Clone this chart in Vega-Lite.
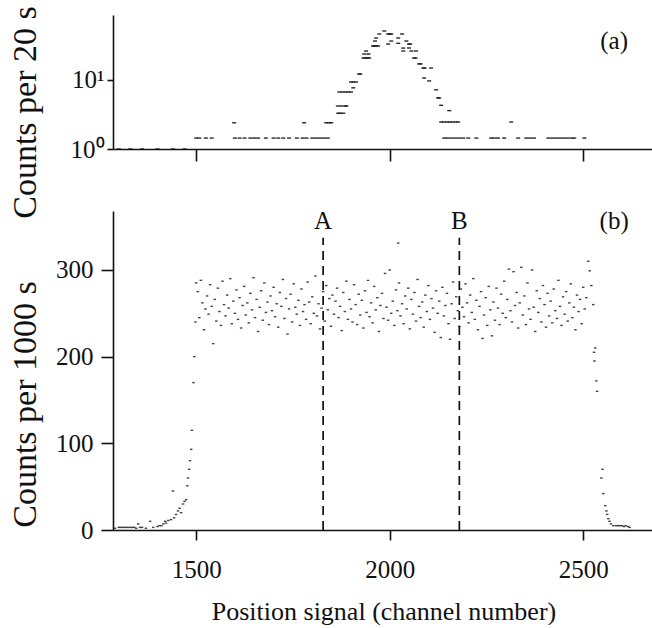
{
"$schema": "https://vega.github.io/schema/vega-lite/v6.json",
"padding": {"left": 7, "top": 5, "right": 0, "bottom": 1},
"bounds": "flush",
"spacing": 62,
"config": {
 "view": {"stroke": null},
 "font": "Liberation Serif",
 "axis": {"grid": false, "domainColor": "#111", "tickColor": "#111", "labelColor": "#111", "titleColor": "#111", "labelFont": "Liberation Serif", "titleFont": "Liberation Serif", "labelFontSize": 25, "titleFontSize": 34, "titleFontWeight": "normal", "domainWidth": 1.6, "tickWidth": 1.6}
},
"datasets": {
 "top": [
  {"ch":1300,"v":1},{"ch":1330,"v":1},{"ch":1360,"v":1},{"ch":1400,"v":1},{"ch":1440,"v":1},{"ch":1470,"v":1},
  {"ch":1500,"v":1.44},{"ch":1508,"v":1.44},{"ch":1525,"v":1.44},{"ch":1540,"v":1.44},{"ch":1600,"v":1.44},{"ch":1612,"v":1.44},{"ch":1625,"v":1.44},{"ch":1640,"v":1.44},{"ch":1650,"v":1.44},{"ch":1660,"v":1.44},{"ch":1680,"v":1.44},{"ch":1700,"v":1.44},{"ch":1712,"v":1.44},{"ch":1725,"v":1.44},{"ch":1740,"v":1.44},{"ch":1760,"v":1.44},{"ch":1775,"v":1.44},{"ch":1785,"v":1.44},{"ch":1800,"v":1.44},{"ch":1810,"v":1.44},{"ch":1820,"v":1.44},{"ch":1830,"v":1.44},{"ch":1840,"v":1.44},
  {"ch":1598,"v":2.4},{"ch":1779,"v":2.4},{"ch":1836,"v":2.4},{"ch":1843,"v":2.4},{"ch":1849,"v":2.4},
  {"ch":1867,"v":3.3},{"ch":1872,"v":3.3},{"ch":1880,"v":3.3},
  {"ch":1866,"v":4.2},{"ch":1875,"v":4.2},{"ch":1885,"v":4.2},{"ch":1888,"v":4.2},
  {"ch":1870,"v":6.7},{"ch":1878,"v":6.7},{"ch":1886,"v":6.7},{"ch":1893,"v":6.7},{"ch":1900,"v":6.7},
  {"ch":1906,"v":7.7},{"ch":1900,"v":9.35},{"ch":1906,"v":9.35},{"ch":1913,"v":9.35},
  {"ch":1921,"v":12.2},{"ch":1924,"v":12.2},
  {"ch":1932,"v":20.8},{"ch":1937,"v":20.8},{"ch":1942,"v":20.8},{"ch":1947,"v":20.8},
  {"ch":1934,"v":23.8},{"ch":1945,"v":23.8},{"ch":1939,"v":26.3},
  {"ch":1957,"v":31.1},{"ch":1960,"v":31.1},{"ch":1965,"v":31.1},{"ch":1970,"v":31.1},
  {"ch":1962,"v":36.7},{"ch":1965,"v":40.6},{"ch":1973,"v":46.4},{"ch":1986,"v":51.3},
  {"ch":1996,"v":46.4},{"ch":2000,"v":46.4},{"ch":2004,"v":46.4},{"ch":1996,"v":33.2},{"ch":2004,"v":36.7},
  {"ch":2022,"v":40.6},{"ch":2022,"v":34},{"ch":2032,"v":46.4},{"ch":2035,"v":29},{"ch":2035,"v":26.3},
  {"ch":2043,"v":36.7},{"ch":2050,"v":33.2},{"ch":2053,"v":33.2},{"ch":2050,"v":29.1},{"ch":2056,"v":26.3},
  {"ch":2063,"v":20.8},{"ch":2067,"v":20.8},{"ch":2068,"v":26.3},
  {"ch":2076,"v":17.1},{"ch":2080,"v":17.1},{"ch":2087,"v":14.9},{"ch":2090,"v":14.9},{"ch":2107,"v":14.9},
  {"ch":2089,"v":10.7},{"ch":2102,"v":9.7},{"ch":2120,"v":7.2},{"ch":2125,"v":5.5},{"ch":2128,"v":5.5},{"ch":2133,"v":4.3},{"ch":2154,"v":3.6},
  {"ch":2133,"v":2.46},{"ch":2140,"v":2.46},{"ch":2148,"v":2.46},{"ch":2155,"v":2.46},{"ch":2162,"v":2.46},{"ch":2170,"v":2.46},{"ch":2177,"v":2.46},{"ch":2314,"v":2.46},
  {"ch":2141,"v":1.44},{"ch":2150,"v":1.44},{"ch":2160,"v":1.44},{"ch":2170,"v":1.44},{"ch":2180,"v":1.44},{"ch":2190,"v":1.44},{"ch":2203,"v":1.44},{"ch":2224,"v":1.44},{"ch":2262,"v":1.44},{"ch":2270,"v":1.44},{"ch":2280,"v":1.44},{"ch":2296,"v":1.44},{"ch":2332,"v":1.44},{"ch":2353,"v":1.44},{"ch":2363,"v":1.44},{"ch":2373,"v":1.44},{"ch":2410,"v":1.44},{"ch":2420,"v":1.44},{"ch":2430,"v":1.44},{"ch":2440,"v":1.44},{"ch":2450,"v":1.44},{"ch":2460,"v":1.44},{"ch":2470,"v":1.44},{"ch":2477,"v":1.44},{"ch":2503,"v":1.44}
 ],
 "bottom": [
  {"ch":1290,"v":2},{"ch":1300,"v":3},{"ch":1305,"v":3},{"ch":1310,"v":3},{"ch":1315,"v":3},{"ch":1320,"v":3},{"ch":1325,"v":3},{"ch":1330,"v":3},{"ch":1335,"v":3},{"ch":1340,"v":3},{"ch":1345,"v":2},{"ch":1350,"v":7},{"ch":1355,"v":3},{"ch":1360,"v":3},{"ch":1370,"v":2},{"ch":1381,"v":10},{"ch":1389,"v":3},{"ch":1400,"v":4},{"ch":1405,"v":5},{"ch":1410,"v":5},{"ch":1415,"v":7},{"ch":1420,"v":10},{"ch":1422,"v":8},{"ch":1428,"v":11},{"ch":1435,"v":12},{"ch":1440,"v":45},{"ch":1443,"v":14},{"ch":1448,"v":18},{"ch":1453,"v":22},{"ch":1457,"v":25},{"ch":1461,"v":20},{"ch":1466,"v":30},{"ch":1470,"v":33},{"ch":1474,"v":35},{"ch":1477,"v":51},{"ch":1479,"v":60},{"ch":1482,"v":70},{"ch":1484,"v":80},{"ch":1487,"v":93},{"ch":1489,"v":115},{"ch":1493,"v":170},{"ch":1495,"v":200},{"ch":1498,"v":240},{"ch":1500,"v":285},
  {"ch":1504,"v":275},{"ch":1508,"v":245},{"ch":1512,"v":288},{"ch":1516,"v":262},{"ch":1520,"v":231},{"ch":1524,"v":255},{"ch":1528,"v":270},{"ch":1532,"v":249},{"ch":1536,"v":283},{"ch":1540,"v":258},
  {"ch":1544,"v":215},{"ch":1548,"v":266},{"ch":1552,"v":241},{"ch":1556,"v":279},{"ch":1560,"v":252},{"ch":1564,"v":236},{"ch":1568,"v":287},{"ch":1572,"v":260},{"ch":1576,"v":247},{"ch":1580,"v":271},
  {"ch":1584,"v":256},{"ch":1588,"v":290},{"ch":1592,"v":238},{"ch":1596,"v":264},{"ch":1600,"v":250},{"ch":1604,"v":277},{"ch":1608,"v":243},{"ch":1612,"v":268},{"ch":1616,"v":233},{"ch":1620,"v":259},
  {"ch":1624,"v":281},{"ch":1628,"v":248},{"ch":1632,"v":262},{"ch":1636,"v":239},{"ch":1640,"v":273},{"ch":1644,"v":254},{"ch":1648,"v":291},{"ch":1652,"v":245},{"ch":1656,"v":266},{"ch":1660,"v":229},
  {"ch":1664,"v":257},{"ch":1668,"v":276},{"ch":1672,"v":242},{"ch":1676,"v":285},{"ch":1680,"v":251},{"ch":1684,"v":263},{"ch":1688,"v":237},{"ch":1692,"v":270},{"ch":1696,"v":253},{"ch":1700,"v":280},
  {"ch":1704,"v":246},{"ch":1708,"v":261},{"ch":1712,"v":234},{"ch":1716,"v":274},{"ch":1720,"v":258},{"ch":1724,"v":289},{"ch":1728,"v":244},{"ch":1732,"v":267},{"ch":1736,"v":226},{"ch":1740,"v":255},
  {"ch":1744,"v":272},{"ch":1748,"v":240},{"ch":1752,"v":284},{"ch":1756,"v":257},{"ch":1760,"v":249},{"ch":1764,"v":265},{"ch":1768,"v":236},{"ch":1772,"v":278},{"ch":1776,"v":252},{"ch":1780,"v":260},
  {"ch":1784,"v":243},{"ch":1788,"v":286},{"ch":1792,"v":263},{"ch":1796,"v":238},{"ch":1800,"v":269},{"ch":1804,"v":250},{"ch":1808,"v":293},{"ch":1812,"v":247},{"ch":1816,"v":261},{"ch":1820,"v":232},
  {"ch":1824,"v":256},{"ch":1828,"v":275},{"ch":1832,"v":241},{"ch":1836,"v":282},{"ch":1840,"v":254},{"ch":1844,"v":267},{"ch":1848,"v":235},{"ch":1852,"v":271},{"ch":1856,"v":249},{"ch":1860,"v":264},
  {"ch":1864,"v":279},{"ch":1868,"v":245},{"ch":1872,"v":258},{"ch":1876,"v":230},{"ch":1880,"v":274},{"ch":1884,"v":252},{"ch":1888,"v":287},{"ch":1892,"v":243},{"ch":1896,"v":266},{"ch":1900,"v":255},
  {"ch":1904,"v":240},{"ch":1908,"v":283},{"ch":1912,"v":260},{"ch":1916,"v":237},{"ch":1920,"v":272},{"ch":1924,"v":248},{"ch":1928,"v":265},{"ch":1932,"v":233},{"ch":1936,"v":276},{"ch":1940,"v":251},
  {"ch":1944,"v":288},{"ch":1948,"v":246},{"ch":1952,"v":262},{"ch":1956,"v":239},{"ch":1960,"v":281},{"ch":1964,"v":254},{"ch":1968,"v":268},{"ch":1972,"v":229},{"ch":1976,"v":259},{"ch":1980,"v":273},
  {"ch":1984,"v":244},{"ch":1988,"v":296},{"ch":1992,"v":257},{"ch":1996,"v":242},{"ch":2000,"v":300},{"ch":2004,"v":250},{"ch":2008,"v":264},{"ch":2012,"v":236},{"ch":2016,"v":277},{"ch":2020,"v":253},
  {"ch":2022,"v":331},
  {"ch":2024,"v":285},{"ch":2028,"v":247},{"ch":2032,"v":261},{"ch":2036,"v":238},{"ch":2040,"v":270},{"ch":2044,"v":255},{"ch":2048,"v":279},{"ch":2052,"v":232},{"ch":2056,"v":266},{"ch":2060,"v":249},
  {"ch":2064,"v":274},{"ch":2068,"v":241},{"ch":2072,"v":289},{"ch":2076,"v":258},{"ch":2080,"v":245},{"ch":2084,"v":263},{"ch":2088,"v":234},{"ch":2092,"v":271},{"ch":2096,"v":252},{"ch":2100,"v":282},
  {"ch":2104,"v":243},{"ch":2108,"v":267},{"ch":2112,"v":256},{"ch":2116,"v":228},{"ch":2120,"v":276},{"ch":2124,"v":250},{"ch":2128,"v":264},{"ch":2132,"v":222},{"ch":2136,"v":280},{"ch":2140,"v":247},
  {"ch":2144,"v":259},{"ch":2148,"v":273},{"ch":2152,"v":238},{"ch":2156,"v":220},{"ch":2160,"v":261},{"ch":2164,"v":286},{"ch":2168,"v":244},{"ch":2172,"v":269},{"ch":2176,"v":253},{"ch":2180,"v":235},
  {"ch":2184,"v":278},{"ch":2188,"v":257},{"ch":2192,"v":246},{"ch":2196,"v":284},{"ch":2200,"v":262},{"ch":2204,"v":239},{"ch":2208,"v":271},{"ch":2212,"v":251},{"ch":2216,"v":290},{"ch":2220,"v":243},
  {"ch":2224,"v":265},{"ch":2228,"v":231},{"ch":2232,"v":258},{"ch":2236,"v":275},{"ch":2240,"v":221},{"ch":2244,"v":248},{"ch":2248,"v":268},{"ch":2252,"v":236},{"ch":2256,"v":281},{"ch":2260,"v":254},
  {"ch":2264,"v":224},{"ch":2268,"v":263},{"ch":2272,"v":242},{"ch":2276,"v":279},{"ch":2280,"v":256},{"ch":2284,"v":237},{"ch":2288,"v":272},{"ch":2292,"v":250},{"ch":2296,"v":287},{"ch":2300,"v":245},
  {"ch":2304,"v":266},{"ch":2308,"v":301},{"ch":2312,"v":253},{"ch":2316,"v":240},{"ch":2320,"v":298},{"ch":2324,"v":259},{"ch":2328,"v":274},{"ch":2332,"v":233},{"ch":2336,"v":262},{"ch":2340,"v":303},
  {"ch":2344,"v":248},{"ch":2348,"v":270},{"ch":2352,"v":237},{"ch":2356,"v":285},{"ch":2360,"v":255},{"ch":2364,"v":243},{"ch":2368,"v":300},{"ch":2372,"v":257},{"ch":2376,"v":229},{"ch":2380,"v":276},
  {"ch":2384,"v":251},{"ch":2388,"v":267},{"ch":2392,"v":240},{"ch":2396,"v":282},{"ch":2400,"v":260},{"ch":2404,"v":234},{"ch":2408,"v":273},{"ch":2412,"v":247},{"ch":2416,"v":264},{"ch":2420,"v":239},
  {"ch":2424,"v":278},{"ch":2428,"v":253},{"ch":2432,"v":244},{"ch":2436,"v":288},{"ch":2440,"v":258},{"ch":2444,"v":236},{"ch":2448,"v":269},{"ch":2452,"v":249},{"ch":2456,"v":275},{"ch":2460,"v":241},
  {"ch":2464,"v":262},{"ch":2468,"v":284},{"ch":2472,"v":245},{"ch":2476,"v":257},{"ch":2480,"v":231},{"ch":2484,"v":271},{"ch":2488,"v":252},{"ch":2492,"v":266},{"ch":2496,"v":238},{"ch":2500,"v":280},
  {"ch":2504,"v":255},{"ch":2508,"v":268},
  {"ch":2513,"v":310},{"ch":2517,"v":299},{"ch":2521,"v":282},{"ch":2526,"v":260},{"ch":2528,"v":205},{"ch":2529,"v":195},{"ch":2531,"v":210},{"ch":2534,"v":172},{"ch":2536,"v":160},{"ch":2547,"v":60},{"ch":2550,"v":70},{"ch":2552,"v":42},{"ch":2557,"v":28},{"ch":2560,"v":22},{"ch":2562,"v":18},{"ch":2565,"v":13},{"ch":2568,"v":10},{"ch":2572,"v":7},{"ch":2578,"v":5},{"ch":2585,"v":5},{"ch":2590,"v":5},{"ch":2595,"v":5},{"ch":2600,"v":5},{"ch":2605,"v":4},{"ch":2610,"v":5},{"ch":2616,"v":4},{"ch":2620,"v":3}
 ],
 "cuts": [{"ch":1828,"y0":0,"y1":337,"ly":357,"label":"A"},{"ch":2180,"y0":0,"y1":337,"ly":357,"label":"B"}]
},
"vconcat": [
 {
  "width": 541, "height": 134,
  "layer": [
   {"data": {"name": "top"},
    "mark": {"type": "tick", "orient": "horizontal", "size": 4, "thickness": 1.4, "color": "#111", "opacity": 0.9},
    "encoding": {
     "x": {"field": "ch", "type": "quantitative", "scale": {"domain": [1285, 2683], "nice": false, "zero": false},
           "axis": {"values": [1500, 2000, 2500], "labels": false, "title": null, "tickSize": 12}},
     "y": {"field": "v", "type": "quantitative", "scale": {"type": "log", "domain": [1, 87.5], "nice": false},
           "axis": {"values": [1, 10], "labelExpr": "datum.value == 1 ? '10⁰' : '10¹'", "title": "Counts per 20 s", "tickSize": 6, "labelPadding": 3, "titleX": -78, "titleY": 97, "titleBaseline": "alphabetic", "titleAlign": "center", "titleAngle": -90}}
    }},
   {"data": {"values": [{"ch": 2580, "v": 36.7, "label": "(a)"}]},
    "mark": {"type": "text", "font": "Liberation Serif", "fontSize": 25, "color": "#111"},
    "encoding": {"x": {"field": "ch", "type": "quantitative"}, "y": {"field": "v", "type": "quantitative"}, "text": {"field": "label"}}}
  ]
 },
 {
  "width": 541, "height": 319,
  "layer": [
   {"data": {"name": "bottom"},
    "mark": {"type": "tick", "orient": "horizontal", "size": 2.5, "thickness": 1.4, "color": "#222", "opacity": 0.85},
    "encoding": {
     "x": {"field": "ch", "type": "quantitative", "scale": {"domain": [1285, 2683], "nice": false, "zero": false},
           "axis": {"values": [1500, 2000, 2500], "format": "d", "title": "Position signal (channel number)", "titleFontSize": 26, "tickSize": 10, "labelPadding": 17, "titleY": 89, "titleBaseline": "alphabetic"}},
     "y": {"field": "v", "type": "quantitative", "scale": {"domain": [0, 368], "nice": false},
           "axis": {"values": [0, 100, 200, 300], "title": "Counts per 1000 s", "tickSize": 12, "labelPadding": 8, "titleX": -78, "titleY": 193, "titleBaseline": "alphabetic", "titleAlign": "center", "titleAngle": -90}}
    }},
   {"data": {"name": "cuts"},
    "mark": {"type": "rule", "strokeDash": [9, 6], "strokeWidth": 1.7, "color": "#111"},
    "encoding": {"x": {"field": "ch", "type": "quantitative"}, "y": {"field": "y0", "type": "quantitative"}, "y2": {"field": "y1"}}},
   {"data": {"name": "cuts"},
    "mark": {"type": "text", "font": "Liberation Serif", "fontSize": 25, "color": "#111"},
    "encoding": {"x": {"field": "ch", "type": "quantitative"}, "y": {"field": "ly", "type": "quantitative"}, "text": {"field": "label"}}},
   {"data": {"values": [{"ch": 2580, "v": 356, "label": "(b)"}]},
    "mark": {"type": "text", "font": "Liberation Serif", "fontSize": 25, "color": "#111"},
    "encoding": {"x": {"field": "ch", "type": "quantitative"}, "y": {"field": "v", "type": "quantitative"}, "text": {"field": "label"}}}
  ]
 }
]
}
